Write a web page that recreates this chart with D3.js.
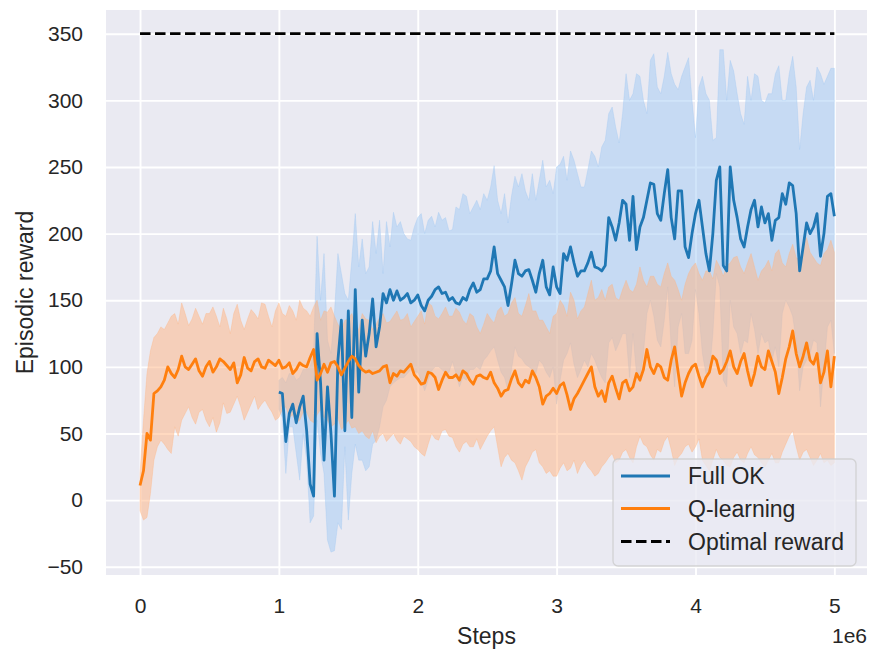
<!DOCTYPE html>
<html>
<head>
<meta charset="utf-8">
<script src="https://cdn.jsdelivr.net/npm/d3@7"></script>
<style>
  body { margin: 0; background: #ffffff; }
  svg { display: block; }
</style>
</head>
<body>
<svg id="chart" width="870" height="653"></svg>
<script>
// ---- Data: episodic reward (mean and confidence band) every 25k steps ----
const stepSize = 25000;

// Q-learning: 0 .. 5e6 steps (one row = 0.5e6 steps)
const qMean = [
  11, 22, 50, 45, 80, 82, 85, 90, 100, 95, 92, 98, 108, 100, 98, 102, 106, 97, 93, 100,
  104, 96, 100, 106, 104, 101, 98, 103, 88, 94, 107, 99, 97, 104, 106, 100, 99, 105, 103, 101,
  105, 99, 100, 103, 95, 98, 103, 101, 100, 107, 113, 90, 95, 102, 96, 103, 104, 100, 94, 99,
  104, 108, 106, 101, 98, 96, 97, 95, 96, 97, 100, 101, 88, 95, 93, 97, 96, 99, 102, 94,
  91, 87, 88, 96, 95, 92, 83, 90, 96, 92, 92, 94, 90, 97, 95, 90, 87, 93, 94, 92,
  91, 96, 88, 84, 78, 82, 83, 91, 97, 88, 85, 90, 88, 97, 92, 85, 72, 78, 80, 84,
  80, 86, 88, 79, 68, 76, 80, 85, 90, 95, 100, 85, 78, 82, 74, 88, 93, 84, 76, 88,
  90, 82, 85, 95, 90, 98, 113, 100, 95, 102, 100, 92, 90, 105, 115, 96, 78, 88, 95, 100,
  102, 93, 85, 92, 96, 108, 105, 95, 98, 104, 112, 100, 95, 104, 110, 97, 86, 95, 108, 100,
  98, 112, 104, 96, 80, 92, 106, 115, 127, 110, 100, 108, 118, 105, 102, 110, 88, 96, 112, 85,
  108
];
const qHi = [
  20, 60, 95, 112, 122, 125, 130, 128, 133, 138, 140, 132, 148, 140, 131, 136, 144, 138, 132, 140,
  140, 145, 138, 130, 144, 136, 125, 140, 147, 135, 128, 136, 143, 140, 136, 148, 147, 138, 130, 142,
  148, 140, 138, 146, 142, 135, 150, 144, 142, 138, 145, 150, 135, 142, 141, 145, 138, 132, 128, 135,
  136, 140, 131, 128, 140, 136, 135, 128, 132, 137, 140, 133, 134, 138, 142, 135, 136, 140, 130, 134,
  138, 142, 132, 148, 146, 138, 136, 140, 145, 138, 138, 144, 141, 135, 132, 140, 138, 130, 125, 132,
  140, 136, 133, 142, 145, 138, 140, 148, 152, 140, 138, 146, 155, 142, 142, 135, 135, 130, 125, 138,
  140, 150, 146, 138, 156, 150, 136, 142, 145, 155, 165, 150, 152, 158, 150, 160, 162, 152, 150, 158,
  165, 158, 156, 162, 175, 165, 160, 168, 168, 162, 160, 170, 178, 168, 165, 158, 150, 162, 170, 175,
  178, 170, 165, 172, 172, 166, 180, 175, 168, 176, 178, 182, 183, 175, 170, 178, 185, 175, 165, 172,
  175, 180, 172, 185, 188, 178, 175, 185, 192, 182, 180, 190, 197, 186, 182, 178, 176, 185, 188, 195,
  186
];
const qLo = [
  -8, -15, -13, 5, 30, 40, 45, 42, 38, 35, 55, 48, 60, 65, 70, 62, 57, 66, 68, 60,
  55, 62, 51, 58, 73, 65, 66, 72, 78, 70, 60, 66, 72, 78, 68, 72, 75, 70, 66, 60,
  62, 68, 70, 62, 64, 58, 60, 66, 66, 60, 58, 64, 68, 62, 60, 55, 57, 62, 53, 56,
  60, 54, 55, 50, 52, 48, 46, 52, 43, 48, 50, 44, 47, 50, 45, 42, 48, 46, 44, 40,
  38, 35, 33, 42, 50, 46, 45, 52, 53, 48, 47, 40, 36, 42, 44, 40, 40, 46, 38, 43,
  48, 52, 55, 40, 25, 32, 35, 30, 28, 22, 15, 25, 30, 36, 38, 28, 25, 20, 22, 18,
  18, 24, 28, 22, 24, 30, 20, 26, 30, 25, 22, 18, 20, 25, 28, 32, 35, 28, 30, 36,
  38, 32, 28, 40, 48, 42, 40, 34, 30, 38, 36, 44, 48, 38, 26, 32, 35, 40, 42, 36,
  40, 46, 30, 26, 22, 30, 38, 32, 30, 26, 25, 32, 36, 30, 28, 35, 40, 34, 32, 28,
  25, 30, 35, 28, 28, 36, 42, 48, 52, 40, 30, 36, 38, 32, 26, 30, 35, 28, 30, 26,
  28
];

// Full OK: 1e6 .. 5e6 steps (one row = 0.5e6 steps)
const fullStart = 1e6;
const fMean = [
  81, 80, 44, 65, 72, 58, 70, 78, 52, 12, 3, 125, 88, 30, 85, 50, 3, 105, 135, 52,
  142, 62, 158, 81, 135, 108, 125, 151, 115, 130, 155, 148, 158, 150, 157, 150, 152, 155, 148, 150,
  154, 146, 142, 150, 153, 158, 160, 155, 156, 150, 152, 148, 147, 152, 150, 158, 163, 156, 158, 166,
  166, 172, 190, 170, 165, 160, 146, 162, 180, 170, 168, 172, 173, 165, 156, 170, 180, 160, 154, 175,
  160, 155, 185, 180, 190, 178, 168, 172, 172, 178, 186, 175, 174, 172, 176, 212, 205, 195, 208, 225,
  222, 195, 228, 188, 205, 212, 225, 238, 237, 215, 210, 230, 248, 212, 196, 232, 232, 190, 182, 200,
  215, 225, 205, 185, 172, 200, 240, 250, 176, 172, 250, 225, 212, 196, 190, 205, 218, 225, 205, 220,
  208, 215, 195, 210, 212, 230, 222, 238, 236, 215, 172, 190, 208, 200, 205, 215, 183, 200, 228, 230,
  213
];
const fHi = [
  90, 92, 88, 95, 95, 90, 92, 98, 98, 100, 110, 198, 150, 185, 120, 110, 140, 185, 170, 155,
  150, 180, 215, 175, 196, 170, 175, 209, 185, 210, 170, 209, 190, 216, 205, 209, 200, 196, 195, 205,
  212, 215, 200, 210, 213, 205, 216, 210, 212, 202, 203, 220, 218, 230, 228, 215, 220, 225, 218, 230,
  225, 235, 251, 225, 215, 230, 208, 228, 243, 235, 245, 232, 225, 245, 225, 240, 255, 235, 240, 230,
  250, 252, 258, 240, 262, 255, 245, 235, 235, 248, 262, 258, 250, 265, 270, 290, 295, 280, 268, 290,
  320, 300, 305, 320, 318, 300, 290, 330, 335, 310, 305, 318, 336, 320, 312, 308, 318, 325, 332, 300,
  272, 310, 318, 305, 300, 270, 272, 338, 338, 300, 330, 322, 305, 290, 282, 318, 300, 320, 318, 300,
  298, 305, 305, 320, 326, 300, 300, 320, 333, 310, 263, 290, 310, 315, 300, 325, 320, 312, 318, 324,
  324
];
const fLo = [
  68, 62, 20, 55, 55, 35, 15, 50, 30, -17, -12, 60, 35, 20, -30, -39, -38, -17, -22, 40,
  -15, 20, 42, 30, 30, 22, 25, 42, 45, 55, 70, 75, 85, 88, 90, 92, 92, 95, 98, 96,
  96, 90, 82, 90, 97, 100, 100, 98, 95, 96, 104, 95, 85, 92, 90, 98, 98, 100, 98, 105,
  108, 112, 115, 105, 96, 92, 82, 98, 115, 108, 106, 102, 100, 98, 95, 105, 102, 96, 92, 100,
  72, 90, 105, 110, 118, 102, 92, 98, 105, 100, 110, 105, 98, 92, 88, 118, 122, 112, 118, 125,
  125, 92, 125, 95, 92, 110, 140, 150, 138, 120, 115, 135, 160, 115, 85, 130, 140, 110, 110, 120,
  158, 140, 110, 95, 95, 125, 170, 160, 90, 85, 150, 130, 125, 110, 120, 118, 140, 128, 110, 125,
  118, 120, 105, 115, 100, 140, 150, 145, 138, 120, 82, 100, 105, 110, 120, 118, 70, 100, 130, 135,
  110
];

const optimalReward = 350;
const optimalSpan = [0, 5e6];

const xTicks = [0, 1e6, 2e6, 3e6, 4e6, 5e6];
const yTicks = [-50, 0, 50, 100, 150, 200, 250, 300, 350];

const legendItems = ["Full OK", "Q-learning", "Optimal reward"];

// ---- Styling ----
const C = {
  bg: "#eaeaf2",
  grid: "#ffffff",
  text: "#262626",
  blue: "#1f77b4",
  orange: "#ff7f0e",
  blueBand: "#a1c9f4",
  orangeBand: "#ffb482"
};
const FONT = "'Liberation Sans', Arial, 'DejaVu Sans', sans-serif";

const plot = { left: 106, right: 867, top: 10, bottom: 575 };

const svg = d3.select("#chart");

const x = d3.scaleLinear().domain([-0.245e6, 5.235e6]).range([plot.left, plot.right]);
const y = d3.scaleLinear().domain([-56.2, 367.8]).range([plot.bottom, plot.top]);

// Point records built from the arrays
const qData = qMean.map((m, i) => ({ step: i * stepSize, mean: m, lo: qLo[i], hi: qHi[i] }));
const fData = fMean.map((m, i) => ({ step: fullStart + i * stepSize, mean: m, lo: fLo[i], hi: fHi[i] }));

// Axes background
svg.append("rect")
  .attr("x", plot.left).attr("y", plot.top)
  .attr("width", plot.right - plot.left).attr("height", plot.bottom - plot.top)
  .attr("fill", C.bg);

// Grid lines via axes
const gridX = svg.append("g")
  .attr("transform", `translate(0,${plot.bottom})`)
  .call(d3.axisBottom(x).tickValues(xTicks).tickSize(-(plot.bottom - plot.top)).tickFormat(""));
gridX.select(".domain").remove();
gridX.selectAll("line").attr("stroke", C.grid).attr("stroke-width", 1.9);

const gridY = svg.append("g")
  .attr("transform", `translate(${plot.left},0)`)
  .call(d3.axisLeft(y).tickValues(yTicks).tickSize(-(plot.right - plot.left)).tickFormat(""));
gridY.select(".domain").remove();
gridY.selectAll("line").attr("stroke", C.grid).attr("stroke-width", 1.9);

// Confidence bands
const area = d3.area()
  .x(d => x(d.step))
  .y0(d => y(d.lo))
  .y1(d => y(d.hi));

svg.append("path").datum(fData)
  .attr("d", area)
  .attr("fill", C.blueBand).attr("fill-opacity", 0.5)
  .attr("stroke", C.blueBand).attr("stroke-opacity", 0.35).attr("stroke-width", 1);

svg.append("path").datum(qData)
  .attr("d", area)
  .attr("fill", C.orangeBand).attr("fill-opacity", 0.5)
  .attr("stroke", C.orangeBand).attr("stroke-opacity", 0.35).attr("stroke-width", 1);

// Mean lines
const line = d3.line().x(d => x(d.step)).y(d => y(d.mean));

svg.append("path").datum(fData)
  .attr("d", line)
  .attr("fill", "none").attr("stroke", C.blue).attr("stroke-width", 2.8)
  .attr("stroke-linejoin", "round");

svg.append("path").datum(qData)
  .attr("d", line)
  .attr("fill", "none").attr("stroke", C.orange).attr("stroke-width", 2.8)
  .attr("stroke-linejoin", "round");

// Optimal reward reference line
svg.append("line")
  .attr("x1", x(optimalSpan[0])).attr("x2", x(optimalSpan[1]))
  .attr("y1", y(optimalReward)).attr("y2", y(optimalReward))
  .attr("stroke", "#000").attr("stroke-width", 2.8)
  .attr("stroke-dasharray", "10.5,4.5");

// Tick labels
const fmtY = d => d < 0 ? "\u2212" + Math.abs(d) : String(d);

const axX = svg.append("g")
  .attr("transform", `translate(0,${plot.bottom})`)
  .call(d3.axisBottom(x).tickValues(xTicks).tickSize(0).tickPadding(23).tickFormat(d => d / 1e6));
axX.select(".domain").remove();
axX.selectAll("text").attr("font-family", FONT).attr("font-size", 21).attr("fill", C.text);

const axY = svg.append("g")
  .attr("transform", `translate(${plot.left},0)`)
  .call(d3.axisLeft(y).tickValues(yTicks).tickSize(0).tickPadding(23).tickFormat(fmtY));
axY.select(".domain").remove();
axY.selectAll("text").attr("font-family", FONT).attr("font-size", 21).attr("fill", C.text);

// Offset text for the step axis
svg.append("text")
  .attr("x", plot.right).attr("y", 643)
  .attr("text-anchor", "end")
  .attr("font-family", FONT).attr("font-size", 21).attr("fill", C.text)
  .text("1e6");

// Axis titles
svg.append("text")
  .attr("x", (plot.left + plot.right) / 2).attr("y", 644)
  .attr("text-anchor", "middle")
  .attr("font-family", FONT).attr("font-size", 23).attr("fill", C.text)
  .text("Steps");

svg.append("text")
  .attr("transform", `translate(33,${(plot.top + plot.bottom) / 2}) rotate(-90)`)
  .attr("text-anchor", "middle")
  .attr("font-family", FONT).attr("font-size", 23).attr("fill", C.text)
  .text("Episodic reward");

// Legend
const legend = svg.append("g");
legend.append("rect")
  .attr("x", 613).attr("y", 459).attr("width", 243).attr("height", 107)
  .attr("rx", 5).attr("ry", 5)
  .attr("fill", C.bg).attr("fill-opacity", 0.8)
  .attr("stroke", "#cccccc").attr("stroke-opacity", 0.8).attr("stroke-width", 1.3);

const legendStyles = [
  { color: C.blue, dash: null },
  { color: C.orange, dash: null },
  { color: "#000", dash: "10.5,4.5" }
];
const rowY = [476, 508.5, 541.5];

legendItems.forEach((label, i) => {
  const ln = legend.append("line")
    .attr("x1", 621).attr("x2", 670)
    .attr("y1", rowY[i]).attr("y2", rowY[i])
    .attr("stroke", legendStyles[i].color).attr("stroke-width", 2.8);
  if (legendStyles[i].dash) ln.attr("stroke-dasharray", legendStyles[i].dash);
  legend.append("text")
    .attr("x", 688).attr("y", rowY[i]).attr("dy", "0.35em")
    .attr("font-family", FONT).attr("font-size", 23).attr("fill", C.text)
    .text(label);
});
</script>
</body>
</html>
